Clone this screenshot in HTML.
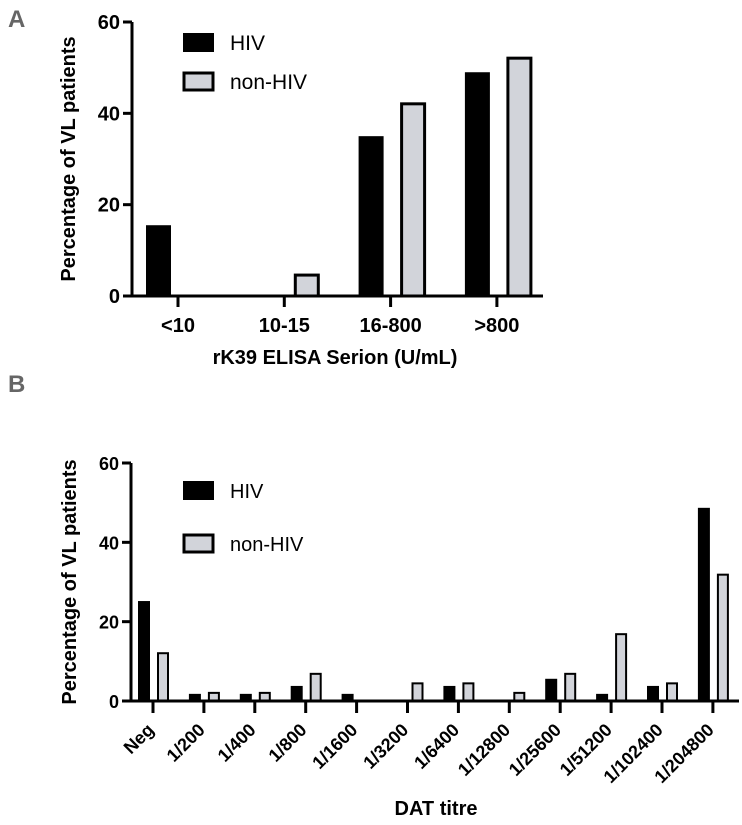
<!DOCTYPE html>
<html><head><meta charset="utf-8"><style>
body{margin:0;background:#fff;}
svg{display:block;font-family:"Liberation Sans",Arial,sans-serif;}
</style></head><body>
<svg id="fig" width="742" height="825" viewBox="0 0 742 825" xmlns="http://www.w3.org/2000/svg">
<text x="8" y="27" font-size="24" font-weight="bold" fill="#666">A</text>
<text x="8" y="392" font-size="24" font-weight="bold" fill="#666">B</text>
<g id="chartA"></g>
<g id="chartB"></g>
</svg>
<script>
const catsA = ["<10","10-15","16-800",">800"];
const hivA = [15.5, 0, 35, 49];
const nonHivA = [0, 4.8, 42.3, 52.3];
const yTicksA = [0,20,40,60];
const catsB = ["Neg","1/200","1/400","1/800","1/1600","1/3200","1/6400","1/12800","1/25600","1/51200","1/102400","1/204800"];
const hivB = [25.2,1.8,1.8,3.8,1.8,0,3.8,0,5.6,1.8,3.8,48.7];
const nonHivB = [12.3,2.3,2.3,7.1,0,4.7,4.7,2.3,7.1,17.1,4.7,32.1];
const yTicksB = [0,20,40,60];
const NS="http://www.w3.org/2000/svg";
function mk(parent,tag,attrs,text){const e=document.createElementNS(NS,tag);for(const k in attrs)e.setAttribute(k,attrs[k]);if(text!==undefined)e.textContent=text;parent.appendChild(e);return e;}

function draw(g,o){
  const y=v=>o.y0-(v/60)*(o.y0-o.y60);
  const x=i=>o.firstTick+i*o.step;
  o.cats.forEach((c,i)=>{
    const hv=o.hiv[i], nv=o.non[i];
    if(hv>0){
      const r=mk(g,'rect',{x:x(i)+o.hOff,y:y(hv),width:o.bw,height:o.y0-y(hv),fill:'#000'});
      
      
    }
    if(nv>0){
      const r=mk(g,'rect',{x:x(i)+o.nOff,y:y(nv)+1,width:o.bw-2,height:o.y0-y(nv)-1,fill:'#d2d4da',stroke:'#000','stroke-width':o.sw});
      
      
    }
  });
  const ax=mk(g,'path',{d:`M${o.ax} ${o.y60} V${o.y0} H${o.axEnd}`,stroke:'#000','stroke-width':3,fill:'none'});
  
  
  o.yTicks.forEach(t=>{
    mk(g,'line',{x1:o.ax-9,x2:o.ax,y1:y(t),y2:y(t),stroke:'#000','stroke-width':3});
    const tl=mk(g,'text',{x:o.ax-12,y:y(t)+7,'font-size':o.fs,'font-weight':'bold','text-anchor':'end'},t);
    
    
  });
  o.cats.forEach((c,i)=>{
    mk(g,'line',{x1:x(i),x2:x(i),y1:o.y0,y2:o.y0+o.tl,stroke:'#000','stroke-width':3});
    let t;
    if(o.rot){
      const px=x(i)+2, py=o.y0+30;
      t=mk(g,'text',{x:px,y:py,'font-size':o.xfs,'font-weight':'bold','text-anchor':'end',transform:`rotate(-45 ${px} ${py})`},c);
    } else {
      t=mk(g,'text',{x:x(i),y:o.y0+36,'font-size':o.xfs,'font-weight':'bold','text-anchor':'middle'},c);
    }
    
    
  });
  const yt=mk(g,'text',{x:0,y:0,'font-size':o.yfs,'font-weight':'bold','text-anchor':'middle',transform:`translate(${o.ylx} ${(o.y0+o.y60)/2}) rotate(-90)`},'Percentage of VL patients');
  
  
  const xt=mk(g,'text',{x:o.xtx,y:o.xty,'font-size':20,'font-weight':'bold','text-anchor':'middle'},o.xtitle);
  
  
  const l1=mk(g,'rect',{x:o.lx,y:o.ly,width:31,height:19,fill:'#000'});
  
  
  const l2=mk(g,'rect',{x:o.lx+1,y:o.ly+o.lgap+1,width:29,height:17,fill:'#d2d4da',stroke:'#000','stroke-width':3});
  
  
  const t1=mk(g,'text',{x:o.lx+47,y:o.ly+17,'font-size':o.lfs},'HIV');
  
  
  const t2=mk(g,'text',{x:o.lx+47,y:o.ly+o.lgap+17,'font-size':o.lfs},'non-HIV');
  
  
}
draw(document.getElementById('chartA'),{cats:catsA,hiv:hivA,non:nonHivA,yTicks:yTicksA,
  y0:296,y60:22,ax:132,axEnd:543,firstTick:178,step:106.3,hOff:-32,nOff:11,bw:25,sw:3,tl:11,
  fs:20,xfs:20,yfs:20,rot:false,ylx:75,xtx:335,xty:364,xtitle:'rK39 ELISA Serion (U/mL)',
  lx:183,ly:33,lgap:39,lfs:21});
draw(document.getElementById('chartB'),{cats:catsB,hiv:hivB,non:nonHivB,yTicks:yTicksB,
  y0:701,y60:463,ax:131,axEnd:739,firstTick:153,step:50.9,hOff:-15,nOff:5,bw:12,sw:2,tl:12,
  fs:18,xfs:18,yfs:20,rot:true,ylx:76,xtx:436,xty:815,xtitle:'DAT titre',
  lx:183,ly:481,lgap:53,lfs:20});
</script>
</body></html>
